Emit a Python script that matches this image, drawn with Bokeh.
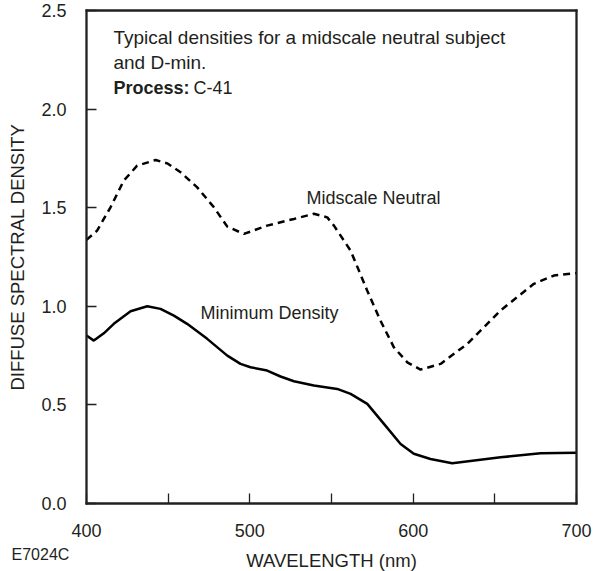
from bokeh.plotting import figure
from bokeh.models import Range1d, FixedTicker, Label, NumeralTickFormatter, LinearAxis
from bokeh.embed import file_html
from bokeh.resources import INLINE

# ---- data ----
mid_wl = [400, 406.5, 414.7, 422.8, 431, 442.3, 449.4, 457.6, 467.8, 478, 486.2, 496.4,
          510.6, 527, 539.2, 547.4, 551.5, 561.7, 571.9, 580, 588.2, 596.4, 604.5,
          616.8, 633.1, 653.5, 673.9, 686.1, 698.4, 700]
mid_d = [1.337, 1.384, 1.502, 1.637, 1.713, 1.742, 1.725, 1.680, 1.603, 1.502, 1.404, 1.367,
         1.409, 1.443, 1.469, 1.451, 1.409, 1.282, 1.079, 0.927, 0.792, 0.716, 0.679,
         0.708, 0.809, 0.979, 1.114, 1.156, 1.167, 1.168]

min_wl = [400, 404.5, 410.6, 416.7, 427, 437.2, 445.3, 453.5, 461.6, 473.9, 486.2, 494.3,
          500.4, 510.6, 518.8, 527, 539.2, 553.5, 561.7, 571.9, 582.1, 592.3, 600.4,
          610.6, 623.9, 653.5, 678, 700]
min_d = [0.852, 0.826, 0.863, 0.911, 0.975, 1.0, 0.987, 0.953, 0.911, 0.835, 0.750, 0.708,
         0.691, 0.674, 0.644, 0.620, 0.598, 0.581, 0.556, 0.505, 0.404, 0.302, 0.252,
         0.226, 0.204, 0.234, 0.255, 0.257]

x_major = [400, 500, 600, 700]
x_minor = [450, 550, 650]
y_ticks = [0.0, 0.5, 1.0, 1.5, 2.0, 2.5]

FONT = "Liberation Sans"
TXT = "#231f20"
LINE = "#231f20"

W, H = 594, 571
# the chart box (400..700 nm, 0..2.5) sits at x 86..576, y 10..503 of the canvas;
# the plotting frame covers the whole canvas so that notes outside the box stay visible
PX_X = 490 / 300.0
PX_Y = 493 / 2.5
x_range = Range1d(400 - 86 / PX_X, 700 + (W - 576) / PX_X)
y_range = Range1d(-(H - 503) / PX_Y, 2.5 + 10 / PX_Y)

p = figure(width=W, height=H, x_range=x_range, y_range=y_range,
           output_backend="svg", toolbar_location=None, min_border=0)

p.xgrid.visible = False
p.ygrid.visible = False
p.outline_line_color = None
p.background_fill_color = "white"
p.border_fill_color = "white"

xax = p.below[0]
yax = p.left[0]
rax = LinearAxis(ticker=FixedTicker(ticks=[]))
tax = LinearAxis(ticker=FixedTicker(ticks=[]))
p.add_layout(rax, "right")
p.add_layout(tax, "above")

ex = 1.15 / PX_X
ey = 1.15 / PX_Y
xax.fixed_location = 0
tax.fixed_location = 2.5
yax.fixed_location = 400
rax.fixed_location = 700
for ax in (xax, tax):
    ax.bounds = (400 - ex, 700 + ex)
for ax in (yax, rax):
    ax.bounds = (0 - ey, 2.5 + ey)

for ax in (xax, yax, rax, tax):
    ax.axis_line_color = LINE
    ax.axis_line_width = 2.3
    ax.major_tick_in = 10
    ax.major_tick_out = 0
    ax.minor_tick_in = 0
    ax.minor_tick_out = 0
    ax.major_tick_line_color = LINE
    ax.major_tick_line_width = 1.3
    ax.minor_tick_line_color = LINE
    ax.minor_tick_line_width = 1.3
    ax.major_label_text_font = FONT
    ax.major_label_text_font_size = "18px"
    ax.major_label_text_color = TXT
    ax.axis_label_text_font = FONT
    ax.axis_label_text_font_size = "18.5px"
    ax.axis_label_text_font_style = "normal"
    ax.axis_label_text_color = TXT

for ax in (rax, tax):
    ax.major_label_standoff = 0
    ax.major_tick_line_color = None
    ax.minor_tick_line_color = None

xax.ticker = FixedTicker(ticks=x_major, minor_ticks=x_minor)
xax.minor_tick_in = 10
xax.major_label_standoff = 20
xax.axis_label = "WAVELENGTH (nm)"
xax.axis_label_standoff = 10

yax.ticker = FixedTicker(ticks=y_ticks)
yax.formatter = NumeralTickFormatter(format="0.0")
yax.major_label_standoff = 20
yax.axis_label = "DIFFUSE SPECTRAL DENSITY"
yax.axis_label_standoff = 10

p.line(mid_wl, mid_d, line_color="black", line_width=2.5, line_dash="7 5")
p.line(min_wl, min_d, line_color="black", line_width=2.5)

def lab(x, y, text, size="18px", bold=False, **kw):
    p.add_layout(Label(x=x, y=y, text=text, text_font=FONT, text_font_size=size,
                       text_color=TXT, text_font_style="bold" if bold else "normal",
                       text_baseline="middle", **kw))

lab(416.5, 2.364, "Typical densities for a midscale neutral subject", size="19px")
lab(416.5, 2.236, "and D-min.", size="19px")
lab(416.5, 2.105, "Process:", bold=True)
lab(465.5, 2.105, "C-41")
lab(534.7, 1.548, "Midscale Neutral")
lab(469.8, 0.964, "Minimum Density")
lab(354.1, -0.260, "E7024C", size="16px")

open("out.html", "w").write(file_html(p, INLINE))
